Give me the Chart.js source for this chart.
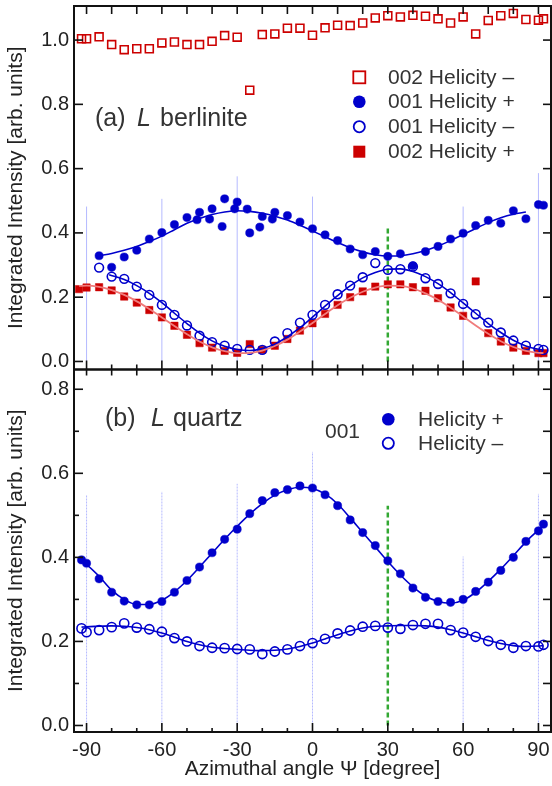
<!DOCTYPE html>
<html>
<head>
<meta charset="utf-8">
<script src="https://cdn.jsdelivr.net/npm/chart.js@4.4.1/dist/chart.umd.min.js"></script>
<style>
html, body { margin: 0; padding: 0; background: #fff; }
#wrap { position: relative; width: 552px; height: 786px; }
#wrap canvas { position: absolute; left: 0; top: 0; }
</style>
</head>
<body>
<div id="wrap">
  <canvas id="panelA" width="552" height="786"></canvas>
  <canvas id="panelB" width="552" height="786"></canvas>
</div>
<script>
// ---- (a) L berlinite ----
var psiA002m = [-92, -90, -85, -80, -75, -70, -65, -60, -55, -50, -45, -40, -35, -30, -25, -20, -15, -10, -5, 0,
  5, 10, 15, 20, 25, 30, 35, 40, 45, 50, 55, 60, 65, 70, 75, 80, 85, 90, 92];
var intA002m = [1.004, 1.004, 1.010, 0.986, 0.970, 0.973, 0.973, 0.991, 0.994, 0.986, 0.986, 0.996, 1.014, 1.009, 0.844, 1.017, 1.019, 1.037, 1.037, 1.015,
  1.038, 1.046, 1.045, 1.053, 1.069, 1.076, 1.072, 1.077, 1.074, 1.066, 1.053, 1.072, 1.019, 1.061, 1.076, 1.083, 1.064, 1.062, 1.066];

var psiA001p = [-85, -80, -75, -70, -65, -60, -55, -50, -46, -45, -41, -40, -36, -35, -31, -30, -26, -25, -21, -20, -16, -15, -10, -5, 0,
  5, 10, 15, 20, 25, 30, 35, 40, 45, 50, 55, 60, 65, 70, 75, 80, 85, 90, 92];
var intA001p = [0.329, 0.293, 0.325, 0.346, 0.381, 0.401, 0.426, 0.448, 0.441, 0.464, 0.443, 0.475, 0.420, 0.506, 0.475, 0.496, 0.474, 0.400, 0.418, 0.451, 0.443, 0.464, 0.454, 0.434, 0.413,
  0.394, 0.376, 0.350, 0.332, 0.342, 0.327, 0.335, 0.298, 0.342, 0.358, 0.381, 0.399, 0.423, 0.439, 0.430, 0.469, 0.444, 0.488, 0.486];

var psiA001m = [-85, -80, -75, -70, -65, -60, -55, -50, -45, -40, -35, -30, -25, -20, -15, -10, -5, 0,
  5, 10, 15, 20, 25, 30, 35, 40, 45, 50, 55, 60, 65, 70, 75, 80, 85, 90, 92];
var intA001m = [0.292, 0.264, 0.257, 0.233, 0.207, 0.176, 0.145, 0.112, 0.080, 0.060, 0.049, 0.039, 0.036, 0.036, 0.062, 0.088, 0.121, 0.145,
  0.176, 0.209, 0.236, 0.262, 0.306, 0.285, 0.287, 0.295, 0.259, 0.241, 0.212, 0.179, 0.147, 0.121, 0.090, 0.065, 0.049, 0.039, 0.036];

var psiA002p = [-93, -90, -85, -80, -75, -70, -65, -60, -55, -50, -45, -40, -35, -30, -25, -20, -15, -10, -5, 0,
  5, 10, 15, 20, 25, 30, 35, 40, 45, 50, 55, 60, 65, 70, 75, 80, 85, 90, 92];
var intA002p = [0.225, 0.230, 0.231, 0.221, 0.202, 0.183, 0.160, 0.137, 0.111, 0.083, 0.057, 0.043, 0.033, 0.027, 0.054, 0.036, 0.049, 0.070, 0.096, 0.119,
  0.148, 0.176, 0.200, 0.218, 0.233, 0.240, 0.240, 0.231, 0.220, 0.197, 0.168, 0.142, 0.249, 0.088, 0.062, 0.043, 0.033, 0.026, 0.026];

// courbes ajustées (a)
var fitPsiA001p = [-85, -80, -75, -70, -65, -60, -55, -50, -45, -40, -35, -30, -25, -20, -15, -10, -5, 0,
  5, 10, 15, 20, 25, 30, 35, 40, 45, 50, 55, 60, 65, 70, 75, 80, 85];
var fitA001p = [0.329, 0.336, 0.346, 0.358, 0.373, 0.390, 0.410, 0.430, 0.445, 0.457, 0.465, 0.469, 0.467, 0.461, 0.452, 0.440, 0.424, 0.406,
  0.388, 0.370, 0.354, 0.341, 0.332, 0.328, 0.329, 0.335, 0.345, 0.359, 0.376, 0.395, 0.414, 0.432, 0.447, 0.458, 0.465];
var fitPsiA001m = [-81, -75, -70, -65, -60, -55, -50, -45, -40, -35, -30, -25, -20, -15, -10, -5, 0,
  5, 10, 15, 20, 25, 30, 35, 40, 45, 50, 55, 60, 65, 70, 75, 80, 85, 90, 92];
var fitA001m = [0.270, 0.255, 0.236, 0.212, 0.183, 0.150, 0.118, 0.088, 0.064, 0.047, 0.037, 0.034, 0.040, 0.054, 0.077, 0.105, 0.138,
  0.172, 0.205, 0.235, 0.260, 0.277, 0.287, 0.288, 0.280, 0.264, 0.242, 0.214, 0.182, 0.150, 0.118, 0.090, 0.066, 0.048, 0.038, 0.036];
var fitPsiA002p = [-93, -90, -85, -80, -75, -70, -65, -60, -55, -50, -45, -40, -35, -30, -25, -20, -15, -10, -5, 0,
  5, 10, 15, 20, 25, 30, 35, 40, 45, 50, 55, 60, 65, 70, 75, 80, 85, 90, 92];
var fitA002p = [0.235, 0.236, 0.232, 0.222, 0.207, 0.187, 0.163, 0.137, 0.110, 0.085, 0.062, 0.044, 0.032, 0.026, 0.027, 0.034, 0.048, 0.068, 0.093, 0.120,
  0.148, 0.175, 0.198, 0.217, 0.230, 0.236, 0.235, 0.227, 0.212, 0.192, 0.167, 0.140, 0.112, 0.086, 0.063, 0.045, 0.033, 0.027, 0.026];

// ---- (b) L quartz ----
var psiB = [-92, -90, -85, -80, -75, -70, -65, -60, -55, -50, -45, -40, -35, -30, -25, -20, -15, -10, -5, 0,
  5, 10, 15, 20, 25, 30, 35, 40, 45, 50, 55, 60, 65, 70, 75, 80, 85, 90, 92];
var intB001p = [0.394, 0.386, 0.349, 0.317, 0.296, 0.287, 0.287, 0.295, 0.317, 0.345, 0.377, 0.411, 0.443, 0.467, 0.504, 0.535, 0.554, 0.561, 0.570, 0.565,
  0.549, 0.523, 0.489, 0.459, 0.428, 0.392, 0.361, 0.327, 0.305, 0.295, 0.293, 0.300, 0.319, 0.341, 0.369, 0.400, 0.438, 0.463, 0.479];
var intB001m = [0.231, 0.222, 0.227, 0.234, 0.243, 0.233, 0.229, 0.223, 0.208, 0.200, 0.189, 0.185, 0.184, 0.182, 0.181, 0.170, 0.176, 0.181, 0.189, 0.196,
  0.206, 0.219, 0.226, 0.235, 0.237, 0.233, 0.230, 0.239, 0.242, 0.242, 0.227, 0.221, 0.211, 0.201, 0.192, 0.185, 0.189, 0.188, 0.192];
var fitB001p = [0.390, 0.383, 0.355, 0.322, 0.300, 0.288, 0.288, 0.298, 0.318, 0.345, 0.377, 0.410, 0.443, 0.474, 0.503, 0.528, 0.548, 0.561, 0.567, 0.564,
  0.551, 0.527, 0.494, 0.459, 0.425, 0.390, 0.358, 0.330, 0.308, 0.295, 0.291, 0.298, 0.317, 0.343, 0.372, 0.404, 0.437, 0.465, 0.476];
var fitB001m = [0.234, 0.235, 0.236, 0.237, 0.236, 0.233, 0.228, 0.220, 0.210, 0.200, 0.192, 0.186, 0.183, 0.181, 0.179, 0.178, 0.179, 0.182, 0.188, 0.196,
  0.206, 0.216, 0.225, 0.232, 0.236, 0.237, 0.238, 0.238, 0.237, 0.234, 0.228, 0.220, 0.211, 0.202, 0.195, 0.190, 0.188, 0.189, 0.190];

// lignes verticales de repère
var refPsi = [-90, -60, -30, 0, 60, 90];
var refTopA = [0.482, 0.506, 0.576, 0.513, 0.482, 0.586];
var refTopB = [0.549, 0.557, 0.575, 0.651, 0.402, 0.551];
var greenPsi = [30];
var greenTopA = [0.415];
var greenTopB = [0.523];

// graduations
var yMajorA = [0, 0.2, 0.4, 0.6, 0.8, 1.0];
var yMajorB = [0, 0.2, 0.4, 0.6, 0.8];
var yMinorB = [0.1, 0.3, 0.5, 0.7];
var xMajor = [-90, -60, -30, 0, 30, 60, 90];
var xMinor = [-80, -70, -50, -40, -20, -10, 10, 20, 40, 50, 70, 80];

var FONT = '"Liberation Sans", Arial, Helvetica, sans-serif';
Chart.defaults.font.family = FONT;
Chart.defaults.color = '#222';

var BLUE = '#0000cc';
var RED = '#cc0000';
var PINK = '#f07c7c';
var REF = 'rgba(120,130,255,0.55)';
var GREEN = '#33a833';

function pts(xs, ys) {
  return xs.map(function (x, i) { return { x: x, y: ys[i] }; });
}

function vLines(xs, tops, color, width, dash) {
  return xs.map(function (x, i) {
    return {
      data: [{ x: x, y: 0 }, { x: x, y: tops[i] }],
      showLine: true, pointRadius: 0, borderColor: color, borderWidth: width,
      borderDash: dash, order: 30
    };
  });
}

function fitLine(xs, ys, color, width) {
  return { data: pts(xs, ys), showLine: true, pointRadius: 0, borderColor: color,
    borderWidth: width, tension: 0.4, cubicInterpolationMode: 'monotone', order: 1 };
}

function markers(xs, ys, style, r, filled, color, order) {
  return {
    data: pts(xs, ys), showLine: false, pointStyle: style, pointRadius: r, pointHoverRadius: r,
    pointBackgroundColor: filled ? color : 'rgba(255,255,255,0)',
    pointBorderColor: color, pointBorderWidth: filled ? 0.5 : 1.6, order: order
  };
}

// pas de marge automatique autour des échelles
function noPad(s) {
  s.paddingLeft = 0; s.paddingRight = 0; s.paddingTop = 0; s.paddingBottom = 0;
}

// marqueurs de légende dessinés à la main
function legendMarker(ctx, kind, x, y) {
  ctx.save();
  ctx.lineWidth = 1.8;
  if (kind === 'sqOpen') {
    ctx.strokeStyle = RED; ctx.strokeRect(x - 6, y - 6, 12, 12);
  } else if (kind === 'sqFill') {
    ctx.fillStyle = RED; ctx.fillRect(x - 6, y - 6, 12, 12);
  } else if (kind === 'cFill') {
    ctx.fillStyle = BLUE; ctx.beginPath(); ctx.arc(x, y, 6.3, 0, 2 * Math.PI); ctx.fill();
  } else {
    ctx.strokeStyle = BLUE; ctx.beginPath(); ctx.arc(x, y, 5.6, 0, 2 * Math.PI); ctx.stroke();
  }
  ctx.restore();
}

function tickY(ctx, chart, vals, xEdge, dir, len) {
  var s = chart.scales.y;
  vals.forEach(function (v) {
    var p = s.getPixelForValue(v);
    ctx.beginPath(); ctx.moveTo(xEdge, p); ctx.lineTo(xEdge + dir * len, p); ctx.stroke();
  });
}
function tickX(ctx, chart, vals, yEdge, dir, len) {
  var s = chart.scales.x;
  vals.forEach(function (v) {
    var p = s.getPixelForValue(v);
    ctx.beginPath(); ctx.moveTo(p, yEdge); ctx.lineTo(p, yEdge + dir * len); ctx.stroke();
  });
}

var framePluginA = {
  id: 'frameA',
  afterDraw: function (chart) {
    var ctx = chart.ctx, a = chart.chartArea;
    ctx.save();
    ctx.strokeStyle = '#111'; ctx.lineWidth = 1.6;
    tickY(ctx, chart, yMajorA, a.left, 1, 9);
    tickY(ctx, chart, yMajorA, a.right, -1, 8);
    tickX(ctx, chart, xMajor.concat(xMinor), a.top, 1, 8);
    tickX(ctx, chart, xMajor, a.bottom, -1, 9);
    tickX(ctx, chart, xMinor, a.bottom, -1, 5);
    ctx.lineWidth = 2;
    ctx.strokeRect(a.left, a.top, a.right - a.left, a.bottom - a.top);

    ctx.fillStyle = '#333';
    ctx.textBaseline = 'alphabetic';
    ctx.font = '25px ' + FONT;
    ctx.fillText('(a)', 95, 126);
    ctx.font = 'italic 25px ' + FONT;
    ctx.fillText('L', 137, 126);
    ctx.font = '25px ' + FONT;
    ctx.fillText('berlinite', 160, 126);

    var items = [['sqOpen', '002 Helicity \u2013', 77.3], ['cFill', '001 Helicity +', 101.7],
      ['cOpen', '001 Helicity \u2013', 126.7], ['sqFill', '002 Helicity +', 151.7]];
    ctx.font = '21px ' + FONT;
    ctx.textBaseline = 'middle';
    items.forEach(function (it) {
      legendMarker(ctx, it[0], 359.3, it[2]);
      ctx.fillStyle = '#333';
      ctx.fillText(it[1], 388, it[2] + 1);
    });
    ctx.restore();
  }
};

var framePluginB = {
  id: 'frameB',
  afterDraw: function (chart) {
    var ctx = chart.ctx, a = chart.chartArea;
    ctx.save();
    ctx.strokeStyle = '#111'; ctx.lineWidth = 1.6;
    tickY(ctx, chart, yMajorB, a.left, 1, 9);
    tickY(ctx, chart, yMinorB, a.left, 1, 5);
    tickY(ctx, chart, yMajorB.concat(yMinorB), a.right, -1, 8);
    tickX(ctx, chart, xMajor.concat(xMinor), a.top, 1, 6);
    tickX(ctx, chart, xMajor, a.bottom, -1, 9);
    tickX(ctx, chart, xMinor, a.bottom, -1, 4);
    ctx.lineWidth = 2;
    ctx.strokeRect(a.left, a.top, a.right - a.left, a.bottom - a.top);

    ctx.fillStyle = '#333';
    ctx.textBaseline = 'alphabetic';
    ctx.font = '25px ' + FONT;
    ctx.fillText('(b)', 105, 426);
    ctx.font = 'italic 25px ' + FONT;
    ctx.fillText('L', 151, 426);
    ctx.font = '25px ' + FONT;
    ctx.fillText('quartz', 173, 426);

    ctx.font = '21px ' + FONT;
    ctx.textBaseline = 'middle';
    ctx.fillText('001', 325, 432);
    legendMarker(ctx, 'cFill', 388.3, 419.3);
    legendMarker(ctx, 'cOpen', 388.3, 443.3);
    ctx.fillStyle = '#333';
    ctx.fillText('Helicity +', 418, 420);
    ctx.fillText('Helicity \u2013', 418, 444);
    ctx.restore();
  }
};

function yAxis(min, max) {
  return {
    type: 'linear', position: 'left', min: min, max: max,
    grid: { display: false, drawTicks: false }, border: { display: false },
    ticks: { stepSize: 0.2, includeBounds: false, padding: 5, color: '#222', font: { size: 20 },
      callback: function (v) { return v.toFixed(1); } },
    title: { display: true, text: 'Integrated Intensity [arb. units]', color: '#222',
      font: { size: 21 }, padding: { top: 4, bottom: 0 } },
    afterFit: function (s) { s.width = 74; noPad(s); }
  };
}

var datasetsA = []
  .concat(vLines(refPsi, refTopA, REF, 1, []))
  .concat(vLines(greenPsi, greenTopA, GREEN, 2.5, [5, 3]))
  .concat([
    markers(psiA002m, intA002m, 'rect', 5.6, false, RED, 6),
    markers(psiA002p, intA002p, 'rect', 5.2, true, RED, 7),
    markers(psiA001m, intA001m, 'circle', 4.4, false, BLUE, 5),
    markers(psiA001p, intA001p, 'circle', 4.1, true, BLUE, 4),
    fitLine(fitPsiA002p, fitA002p, PINK, 1.8),
    fitLine(fitPsiA001m, fitA001m, BLUE, 1.6),
    fitLine(fitPsiA001p, fitA001p, BLUE, 1.6)
  ]);

new Chart(document.getElementById('panelA'), {
  type: 'scatter',
  data: { datasets: datasetsA },
  options: {
    responsive: false, animation: false,
    layout: { autoPadding: false, padding: { top: 6, right: 1, bottom: 786 - 369.5, left: 0 } },
    plugins: { legend: { display: false }, tooltip: { enabled: false } },
    scales: {
      x: { type: 'linear', min: -95, max: 95, display: false, afterFit: noPad },
      y: yAxis(-0.025, 1.106)
    }
  },
  plugins: [framePluginA]
});

var datasetsB = []
  .concat(vLines(refPsi, refTopB, REF, 1, [2, 1]))
  .concat(vLines(greenPsi, greenTopB, GREEN, 2.5, [5, 3]))
  .concat([
    markers(psiB, intB001m, 'circle', 4.6, false, BLUE, 5),
    markers(psiB, intB001p, 'circle', 4.1, true, BLUE, 4),
    fitLine(psiB, fitB001m, BLUE, 1.6),
    fitLine(psiB, fitB001p, BLUE, 1.6)
  ]);

new Chart(document.getElementById('panelB'), {
  type: 'scatter',
  data: { datasets: datasetsB },
  options: {
    responsive: false, animation: false,
    layout: { autoPadding: false, padding: { top: 369.5, right: 1, bottom: 0, left: 0 } },
    plugins: { legend: { display: false }, tooltip: { enabled: false } },
    scales: {
      x: {
        type: 'linear', min: -95, max: 95, position: 'bottom',
        grid: { display: false, drawTicks: false }, border: { display: false },
        ticks: { stepSize: 30, includeBounds: false, padding: 6, color: '#222', font: { size: 20 },
          maxRotation: 0, autoSkip: false },
        title: { display: true, text: 'Azimuthal angle \u03A8 [degree]', color: '#222',
          font: { size: 21 }, padding: { top: 0, bottom: 4 } },
        afterFit: function (s) { s.height = 54; noPad(s); }
      },
      y: yAxis(-0.0155, 0.847)
    }
  },
  plugins: [framePluginB]
});
</script>
</body>
</html>
